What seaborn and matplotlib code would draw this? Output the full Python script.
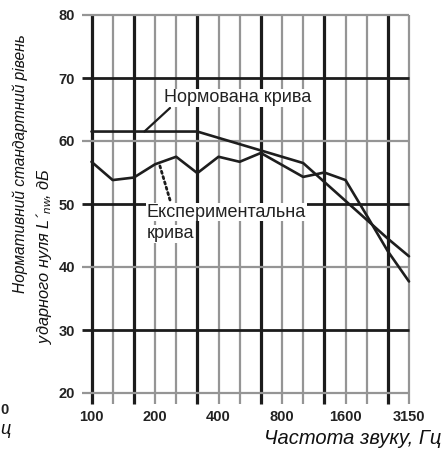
import numpy as np
import pandas as pd
import matplotlib
matplotlib.use("Agg")
import matplotlib.pyplot as plt
import seaborn as sns
from matplotlib import font_manager as fm

sns.set_theme(style="white")

names = {f.name for f in fm.fontManager.ttflist}
narrow = "Liberation Sans Narrow" if "Liberation Sans Narrow" in names else "Liberation Sans"
plt.rcParams['font.family'] = ['Liberation Sans', 'DejaVu Sans']
plt.rcParams['mathtext.fontset'] = 'custom'
plt.rcParams['mathtext.it'] = 'Liberation Sans:italic'
plt.rcParams['mathtext.rm'] = 'Liberation Sans'

# Data
freqs = [100, 125, 160, 200, 250, 315, 400, 500, 630, 800, 1000, 1250, 1600, 2000, 2500, 3150]
reference = [61.5, 61.5, 61.5, 61.5, 61.5, 61.5, 60.5, 59.5, 58.5, 57.5, 56.5, 53.5, 50.5, 47.5, 44.5, 41.7]
experimental = [56.7, 53.8, 54.2, 56.3, 57.5, 54.9, 57.5, 56.7, 58.1, 56.2, 54.3, 55.0, 53.8, 48.2, 42.5, 37.7]
xtick_labels = ["100", "200", "400", "800", "1600", "3150"]
ytick_values = [20, 30, 40, 50, 60, 70, 80]

pos = np.arange(len(freqs))
df = pd.DataFrame({
    "pos": np.concatenate([pos, pos]),
    "level": reference + experimental,
    "series": ["Нормована крива"] * len(freqs) + ["Експериментальна крива"] * len(freqs),
})

W, H = 447, 449
fig = plt.figure(figsize=(W / 100, H / 100), dpi=100)
ax = fig.add_axes([91.5 / W, 1 - 393 / H, (409 - 91.5) / W, (393 - 15) / H])
ax.set_xlim(0, len(freqs) - 1)
ax.set_ylim(20, 80)
for s in ax.spines.values():
    s.set_visible(False)

dark = "#1c1c1c"
grey = "#959595"
thick_idx = {0, 2, 5, 8, 11, 14}
xt = ax.get_xaxis_transform()
yt = ax.get_yaxis_transform()
for i in pos:
    if i in thick_idx:
        ax.vlines(i, -0.03, 1, transform=xt, color=dark, lw=2.3, clip_on=False, zorder=1)
    else:
        ax.vlines(i, -0.03, 1, transform=xt, color=grey, lw=1.6, clip_on=False, zorder=1)
for v in ytick_values:
    c, lw = (dark, 2.0) if v in (30, 50, 70) else (grey, 1.6)
    ax.hlines(v, -0.03, 1, transform=yt, color=c, lw=lw, clip_on=False, zorder=1)

sns.lineplot(data=df, x="pos", y="level", hue="series", palette=["#1e1e1e", "#1e1e1e"],
             lw=1.9, legend=False, ax=ax, zorder=3, clip_on=False)

ax.set_xticks(pos[::3])
ax.set_xticklabels(xtick_labels)
ax.set_yticks(ytick_values)
ax.set_yticklabels([str(v) for v in ytick_values])
ax.tick_params(axis="both", length=0, labelsize=10.5)
ax.tick_params(axis="x", pad=12)
ax.tick_params(axis="y", pad=12)
for lab in ax.get_xticklabels() + ax.get_yticklabels():
    lab.set_fontfamily([narrow, 'DejaVu Sans'])
    lab.set_fontweight("bold")
    lab.set_color("#222222")
ax.set_xlabel("")
ax.set_ylabel("")

# Annotations
bbox = dict(facecolor="white", edgecolor="none", pad=0.5)
ax.annotate("", xy=(2.5, reference[2]), xytext=(170, H - 108), textcoords="figure pixels",
            arrowprops=dict(arrowstyle="-", color=dark, lw=1.6, shrinkA=0, shrinkB=0), zorder=4)
fig.text(164 / W, 1 - 98 / H, "Нормована крива", fontsize=13, family=[narrow, 'DejaVu Sans'],
         ha="left", va="center", color="#222222", bbox=bbox, zorder=5)
ax.annotate("", xy=(3.2, 56.4), xytext=(170, H - 200), textcoords="figure pixels",
            arrowprops=dict(arrowstyle="-", color=dark, lw=2.0, ls=(0, (0.8, 1.2)), shrinkA=0, shrinkB=0), zorder=4)
fig.text(147 / W, 1 - 212 / H, "Експериментальна", fontsize=13, family=[narrow, 'DejaVu Sans'],
         ha="left", va="center", color="#222222", bbox=bbox, zorder=5)
fig.text(147 / W, 1 - 234 / H, "крива", fontsize=13, family=[narrow, 'DejaVu Sans'],
         ha="left", va="center", color="#222222", bbox=bbox, zorder=5)

# Axis titles
fig.text(20 / W, 1 - 164 / H, "Нормативний стандартний рівень", rotation=90, style="italic",
         fontsize=11.2, ha="center", va="center", color="#111111")
fig.text(44 / W, 1 - 256 / H, r"ударного нуля L´$_{\mathit{nw}}$, дБ", rotation=90, style="italic",
         fontsize=11.8, ha="center", va="center", color="#111111")
fig.text(441 / W, 1 - 438 / H, "Частота звуку, Гц", style="italic", fontsize=14.5,
         ha="right", va="center", color="#111111")

# Fragments visible at the left edge
fig.text(0.5 / W, 1 - 410 / H, "0", fontsize=10.5, fontweight="bold", family=[narrow, 'DejaVu Sans'],
         ha="left", va="center", color="#222222")
fig.text(0.5 / W, 1 - 429 / H, "ц", style="italic", fontsize=13, ha="left", va="center", color="#111111")

fig.savefig("out.png", dpi=100)
